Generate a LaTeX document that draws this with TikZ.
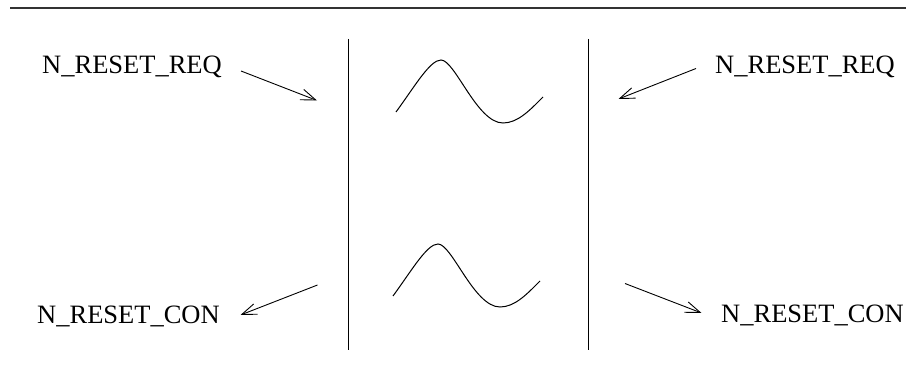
\documentclass[tikz,border=0pt]{standalone}
\usepackage{fontspec}
\setmainfont{Liberation Serif}
\usetikzlibrary{arrows.meta}

\begin{document}
\begin{tikzpicture}[
    x=1pt, y=-1pt,
    sig/.style={anchor=base west, inner sep=0pt, font=\fontsize{26.5}{30}\selectfont},
    arrow/.style={-{Straight Barb[length=15pt,width=11pt]}, line width=0.9pt},
    bar/.style={line width=0.9pt},
    wave/.style={line width=1pt},
]
\useasboundingbox (0,0) rectangle (906,390);

% header rule
\coordinate (ruleL) at (10,8);
\coordinate (ruleR) at (906,8);
\draw[line width=1.6pt, black!80] (ruleL) -- (ruleR);

% the two interface lines
\coordinate (leftTop) at (348,39);
\coordinate (leftBot) at (348,350);
\coordinate (rightTop) at (588.5,39);
\coordinate (rightBot) at (588.5,350);
\draw[bar] (leftTop) -- (leftBot);
\draw[bar] (rightTop) -- (rightBot);

% primitives
\node[sig] (reqL) at (42,73.5) {N\_RESET\_REQ};
\node[sig] (reqR) at (715,74) {N\_RESET\_REQ};
\node[sig] (conL) at (37,324) {N\_RESET\_CON};
\node[sig] (conR) at (721,322.5) {N\_RESET\_CON};

\coordinate (reqLa) at (241,71);
\coordinate (reqLb) at (317,100.5);
\coordinate (reqRa) at (696,68.5);
\coordinate (reqRb) at (618.5,99);
\coordinate (conLa) at (317.5,285);
\coordinate (conLb) at (240.5,315);
\coordinate (conRa) at (625,283.5);
\coordinate (conRb) at (701.5,313);

\draw[arrow] (reqLa) -- (reqLb);
\draw[arrow] (reqRa) -- (reqRb);
\draw[arrow] (conLa) -- (conLb);
\draw[arrow] (conRa) -- (conRb);

% transport across the provider
\foreach \dx/\dy in {0/0, -3/184} {
  \draw[wave, shift={(\dx,\dy)}] (396,112)
    .. controls (415,86) and (430,60) .. (441,60)
    .. controls (455,60) and (477,123) .. (503,123)
    .. controls (518,123) and (530,110) .. (543,97);
}

\end{tikzpicture}
\end{document}
